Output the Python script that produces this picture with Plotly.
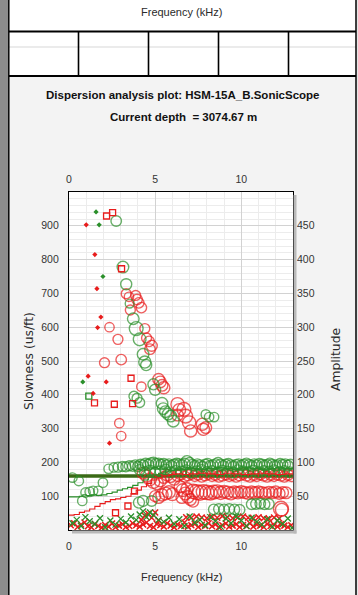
import plotly.graph_objects as go

# ---------------- data ----------------
FREQ_TICKS = [0, 5, 10]
SLOW_TICKS = [100, 200, 300, 400, 500, 600, 700, 800, 900]
AMP_TICKS = [50, 100, 150, 200, 250, 300, 350, 400, 450]

# tiny picks
GREEN_DOT_F = [1.57, 1.75, 1.97, 0.80]
GREEN_DOT_S = [941, 903, 750, 438]
RED_DOT_F = [1.00, 1.50, 1.62, 1.85, 1.66, 1.11, 2.16, 1.40, 2.35]
RED_DOT_S = [903, 815, 714, 630, 599, 455, 438, 404, 257]

# square picks
RED_SQ_F = [2.53, 2.18, 3.05, 3.60, 1.48, 2.63, 3.69, 2.70, 3.42, 3.80]
RED_SQ_S = [939, 929, 773, 449, 376, 372, 374, 51, 71, 115]
GREEN_SQ_F = [1.15]
GREEN_SQ_S = [396]

# green semblance rings (frequency, slowness, relative weight)
GREEN_RING_F = [
    2.74, 3.13, 3.32, 3.52, 3.73, 3.90, 4.10, 4.30, 4.40, 4.48, 4.90, 5.00,
    3.77, 3.95, 4.10, 5.40, 5.47, 5.60, 5.75, 5.90, 6.05, 7.94, 8.13, 8.42,
    0.20, 0.57, 0.77, 0.96, 1.20, 1.40, 1.70, 1.97,
    4.06, 4.30, 4.80, 8.40, 8.70, 9.00, 9.30, 9.60, 9.90, 10.60, 10.85, 11.10, 11.35, 11.60,
    2.30, 2.60, 2.85, 3.10, 3.30, 3.50, 3.70, 3.85, 4.00, 4.15, 4.30, 4.45, 4.60, 4.75,
    4.90, 5.05, 5.20, 5.35, 5.50, 5.65, 5.80, 5.95, 6.10, 6.25, 6.40, 6.55, 6.70, 6.85,
    7.00, 7.15, 7.30, 7.45, 7.60, 7.75, 7.90, 8.05, 8.20, 8.35, 8.50, 8.65, 8.80, 8.95,
    9.10, 9.25, 9.40, 9.55, 9.70, 9.85, 10.00, 10.15, 10.30, 10.45, 10.60, 10.75, 10.90,
    11.05, 11.20, 11.35, 11.50, 11.65, 11.80, 11.95, 12.10, 12.25, 12.40, 12.55, 12.70, 12.85,
    4.10, 4.40, 4.70, 5.00, 5.30, 5.60, 5.90, 6.20, 6.50, 6.80, 7.10, 7.40, 7.70, 8.00,
    8.30, 8.60, 8.90, 9.20, 9.50, 9.80, 10.10, 10.40, 10.70, 11.00, 11.30, 11.60, 11.90,
    12.20, 12.50, 12.80,
]
GREEN_RING_S = [
    914, 778, 727, 670, 625, 596, 564, 520, 497, 488, 431, 415,
    396, 390, 377, 375, 359, 350, 343, 337, 322, 342, 334, 334,
    155, 145, 86, 111, 113, 116, 116, 140,
    81, 86, 86, 61, 62, 61, 62, 61, 60, 76, 77, 78, 76, 77,
    181, 185, 186, 188, 187, 190, 189, 192, 188, 194, 191, 196, 193, 197,
    199, 195, 197, 194, 196, 192, 195, 190, 193, 196, 194, 192, 195, 202,
    198, 193, 190, 195, 192, 188, 194, 196, 190, 192, 195, 198, 193, 190,
    194, 196, 192, 189, 193, 195, 191, 194, 197, 193, 190, 195, 192,
    196, 194, 191, 193, 197, 194, 190, 192, 196, 193, 195, 191, 194,
    178, 172, 176, 170, 174, 179, 171, 175, 173, 177, 170, 174, 178, 172,
    175, 171, 176, 173, 170, 177, 174, 172, 176, 171, 175, 173, 177,
    172, 175, 171,
]
GREEN_RING_W = [
    0.50, 0.60, 0.55, 0.35, 0.60, 0.80, 0.70, 0.60, 0.65, 0.55, 0.55, 0.55,
    0.45, 0.45, 0.45, 0.60, 0.60, 0.60, 0.60, 0.60, 0.60, 0.40, 0.40, 0.40,
    0.40, 0.40, 0.40, 0.40, 0.40, 0.40, 0.40, 0.40,
    0.55, 0.55, 0.50, 0.50, 0.50, 0.50, 0.50, 0.50, 0.50, 0.50, 0.50, 0.50, 0.50, 0.50,
    0.40, 0.40, 0.45, 0.45, 0.45, 0.45, 0.50, 0.50, 0.50, 0.50, 0.55, 0.55, 0.55, 0.55,
    0.55, 0.55, 0.50, 0.50, 0.50, 0.50, 0.50, 0.50, 0.55, 0.55, 0.55, 0.55, 0.60, 0.65,
    0.55, 0.50, 0.50, 0.50, 0.50, 0.50, 0.50, 0.50, 0.50, 0.50, 0.50, 0.55, 0.55, 0.50,
    0.50, 0.50, 0.50, 0.50, 0.50, 0.50, 0.50, 0.50, 0.50, 0.50, 0.50, 0.50, 0.50,
    0.50, 0.50, 0.50, 0.50, 0.50, 0.50, 0.50, 0.50, 0.50, 0.50, 0.50, 0.50, 0.50,
    0.50, 0.50, 0.50, 0.50, 0.50, 0.50, 0.50, 0.50, 0.50, 0.50, 0.50, 0.50, 0.50, 0.50,
    0.50, 0.50, 0.50, 0.50, 0.50, 0.50, 0.50, 0.50, 0.50, 0.50, 0.50, 0.50, 0.50,
    0.50, 0.50, 0.50,
]

# red semblance rings
RED_RING_F = [
    3.32, 3.48, 3.87, 3.95, 4.05, 4.20, 3.56, 2.35, 4.40, 4.50, 4.65, 4.80, 4.70,
    2.84, 2.06, 3.03, 4.20, 5.20, 5.30, 5.40, 5.50, 2.92, 3.03,
    6.30, 6.40, 6.30, 6.67, 6.77, 6.97, 7.06, 7.74, 7.94, 7.80,
    4.30, 4.50, 4.70, 4.90, 5.10, 5.30, 5.50, 5.70, 5.90, 6.10, 6.30, 6.50, 6.70, 6.90,
    7.10, 7.30, 7.50, 7.70, 7.90, 8.10, 8.30, 8.50, 8.70, 8.90, 9.10, 9.30, 9.50, 9.70,
    9.90, 10.10, 10.30, 10.50, 10.70, 10.90, 11.10, 11.30, 11.50, 11.70, 11.90, 12.10,
    12.30, 12.50, 12.70, 12.90,
    5.00, 5.20, 5.40, 5.60, 5.80, 6.00, 7.20, 7.40, 7.60, 7.80, 8.00, 8.20, 8.40, 8.60,
    8.80, 9.00, 9.20, 9.40, 9.60, 9.80, 10.00, 10.20, 10.40, 10.60, 10.80, 11.00, 11.20,
    11.40, 11.60, 11.80, 12.00, 12.20, 12.40, 12.60,
    6.45, 6.60, 6.75, 6.90, 7.05, 7.20, 6.55, 6.85,
    12.30, 12.35,
]
RED_RING_S = [
    699, 690, 694, 682, 672, 658, 651, 600, 596, 568, 558, 545, 535,
    564, 495, 504, 424, 446, 438, 428, 421, 316, 278,
    372, 355, 340, 357, 337, 318, 293, 313, 303, 298,
    168, 160, 150, 142, 138, 146, 155, 162, 158, 150, 160, 165, 158, 162,
    166, 160, 164, 158, 162, 166, 160, 163, 158, 161, 165, 160, 163, 158,
    162, 166, 161, 158, 163, 160, 165, 161, 158, 163, 160, 164,
    161, 158, 163, 160,
    100, 96, 104, 108, 112, 106, 114, 112, 110, 113, 111, 109, 112, 114,
    110, 113, 111, 108, 112, 110, 113, 111, 109, 112, 110, 113, 111,
    109, 112, 110, 113, 108, 111, 110,
    128, 118, 108, 98, 90, 84, 96, 122,
    63, 60,
]
RED_RING_W = [
    0.45, 0.40, 0.45, 0.50, 0.50, 0.50, 0.45, 0.40, 0.45, 0.45, 0.50, 0.55, 0.50,
    0.45, 0.45, 0.50, 0.40, 0.60, 0.60, 0.60, 0.65, 0.40, 0.40,
    0.75, 0.70, 0.60, 0.80, 0.80, 0.75, 0.65, 0.65, 0.60, 0.65,
    0.60, 0.65, 0.70, 0.70, 0.70, 0.65, 0.60, 0.60, 0.60, 0.60, 0.55, 0.55, 0.55, 0.55,
    0.55, 0.55, 0.55, 0.55, 0.55, 0.55, 0.55, 0.55, 0.55, 0.55, 0.55, 0.55, 0.55, 0.55,
    0.55, 0.55, 0.55, 0.55, 0.55, 0.55, 0.55, 0.55, 0.55, 0.55, 0.55, 0.55,
    0.55, 0.55, 0.55, 0.55,
    0.55, 0.60, 0.65, 0.70, 0.70, 0.70, 0.85, 0.90, 0.90, 0.85, 0.85, 0.80, 0.80, 0.75,
    0.75, 0.70, 0.70, 0.70, 0.65, 0.65, 0.65, 0.65, 0.65, 0.65, 0.65, 0.60, 0.60,
    0.60, 0.60, 0.60, 0.60, 0.60, 0.60, 0.60,
    0.65, 0.70, 0.70, 0.65, 0.60, 0.55, 0.60, 0.65,
    0.90, 0.70,
]

# crosses near the bottom
RED_X_F = [
    0.10, 0.30, 0.50, 0.70, 0.90, 1.10, 1.30, 1.50, 1.70, 1.90, 2.10, 2.30, 2.50, 2.70,
    2.90, 3.10, 3.30, 3.50, 3.70, 3.90, 4.10, 4.30, 4.50, 4.70, 4.90, 5.10, 5.30, 5.50,
    5.70, 5.90, 6.10, 6.30, 6.50, 6.70, 6.90, 7.10, 7.30, 7.50, 7.70, 7.90, 8.10, 8.30,
    8.50, 8.70, 8.90, 9.10, 9.30, 9.50, 9.70, 9.90, 10.10, 10.30, 10.50, 10.70, 10.90,
    11.10, 11.30, 11.50, 11.70, 11.90, 12.10, 12.30, 12.50, 12.70, 12.90,
    6.80, 7.10, 7.40, 7.70, 8.00, 8.30, 8.60, 8.90, 9.20, 9.50, 9.80, 10.10, 10.40,
    10.70, 11.00, 11.30, 11.60, 11.90, 12.20,
    4.20, 4.40, 4.60, 4.80, 5.00, 5.20,
]
RED_X_S = [
    14, 20, 9, 16, 22, 11, 8, 18, 12, 7, 15, 10, 19, 8, 13, 17, 9, 12, 20, 14, 10,
    16, 22, 12, 8, 18, 14, 10, 20, 13, 8, 16, 12, 22, 10, 14, 18, 9, 15, 12, 20, 11,
    16, 8, 14, 19, 10, 13, 17, 9, 15, 12, 20, 10, 16, 13, 9, 18, 12, 15, 10, 17, 13,
    9, 14,
    38, 36, 40, 37, 35, 39, 36, 41, 38, 35, 37, 40, 36, 34, 38, 35, 33, 37, 34,
    30, 42, 48, 36, 52, 28,
]
GREEN_X_F = [
    0.20, 0.45, 0.70, 0.95, 1.20, 1.50, 1.80, 2.10, 2.40, 2.70, 3.00, 3.30, 3.60, 3.90,
    4.10, 4.30, 4.50, 4.70, 4.90, 5.20, 5.50, 5.80, 6.10, 6.40, 6.70, 7.00, 7.30, 7.60,
    7.90, 8.20, 8.50, 8.80, 9.10, 9.40, 9.70, 10.00, 10.30, 10.60, 10.90, 11.20, 11.50,
    11.80, 12.10, 12.40, 12.70, 12.95,
]
GREEN_X_S = [
    20, 30, 12, 38, 26, 18, 35, 8, 28, 16, 33, 22, 40, 30,
    46, 55, 38, 52, 44, 30, 24, 36, 18, 32, 12, 40, 22, 30,
    14, 38, 26, 10, 34, 20, 40, 28, 12, 36, 24, 16, 32, 10,
    28, 18, 34, 6,
]

# amplitude spectra (right axis)
GREEN_AMP_F = [0.0, 0.3, 0.6, 0.8, 1.0, 1.3, 1.6, 1.9, 2.2, 2.5, 2.8, 3.1, 3.4, 3.7,
               4.0, 4.3, 4.6, 4.9, 5.2, 5.5, 5.8, 6.1, 6.5, 7.0, 7.5, 8.0, 8.5, 9.0,
               9.5, 10.0, 10.5, 11.0, 11.5, 12.0, 12.5, 13.0]
GREEN_AMP = [49, 49, 50, 52, 51, 52, 51, 52, 54, 56, 59, 61, 63, 66,
             70, 74, 78, 81, 84, 86, 88, 89, 90, 91, 90, 91, 92, 91,
             90, 92, 91, 90, 91, 92, 91, 90]
RED_AMP_F = [0.0, 0.3, 0.6, 0.9, 1.2, 1.5, 1.8, 2.1, 2.4, 2.7, 3.0, 3.3, 3.6, 3.9,
             4.2, 4.5, 4.8, 5.1, 5.4, 5.8, 6.2, 6.6, 7.0, 7.5, 8.0, 8.5, 9.0, 9.5,
             10.0, 10.5, 11.0, 11.5, 12.0, 12.5, 13.0]
RED_AMP = [22, 23, 26, 28, 31, 35, 39, 42, 45, 46, 48, 50, 54, 59,
           64, 69, 74, 77, 80, 82, 83, 82, 83, 84, 83, 82, 84, 83,
           82, 83, 84, 83, 82, 83, 82]

# formation reference slowness
REF_F = [0, 13]
REF_S = [160, 160]

# ---------------- page geometry ----------------
W_PX, H_PX = 358, 595
L, R, T, B = 69, 65, 192, 65
PW, PH = W_PX - L - R, H_PX - T - B


def fx(x):
    return (x - L) / PW


def fy(y):
    return (T + PH - y) / PH


GREEN = "#2a8f2a"
RED = "#e81c1c"
DARK_GREEN = "#3a6a16"
TICK_FONT = dict(family="Liberation Sans, Arial", size=10.5, color="#333333")


def ring_size(ws):
    return [5 + 11 * w for w in ws]


fig = go.Figure()

fig.add_trace(go.Scatter(x=RED_X_F, y=RED_X_S, mode="markers",
                         marker=dict(symbol="x-thin-open", size=6, color=RED,
                                     line=dict(width=1.5, color=RED))))
fig.add_trace(go.Scatter(x=GREEN_X_F, y=GREEN_X_S, mode="markers",
                         marker=dict(symbol="x-thin-open", size=6, color=GREEN,
                                     line=dict(width=1.3, color=GREEN))))
fig.add_trace(go.Scatter(x=RED_AMP_F, y=RED_AMP, xaxis="x2", yaxis="y2", mode="lines",
                         line=dict(color=RED, width=1.1, shape="hv")))
fig.add_trace(go.Scatter(x=GREEN_AMP_F, y=GREEN_AMP, xaxis="x2", yaxis="y2", mode="lines",
                         line=dict(color=GREEN, width=1.1, shape="hv")))
fig.add_trace(go.Scatter(x=REF_F, y=REF_S, mode="lines",
                         line=dict(color=DARK_GREEN, width=3.5)))
fig.add_trace(go.Scatter(x=RED_RING_F, y=RED_RING_S, mode="markers",
                         marker=dict(symbol="circle-open", size=ring_size(RED_RING_W), color=RED,
                                     line=dict(width=1.4, color=RED))))
fig.add_trace(go.Scatter(x=GREEN_RING_F, y=GREEN_RING_S, mode="markers",
                         marker=dict(symbol="circle-open", size=ring_size(GREEN_RING_W), color=GREEN,
                                     line=dict(width=1.4, color=GREEN))))
fig.add_trace(go.Scatter(x=RED_SQ_F, y=RED_SQ_S, mode="markers",
                         marker=dict(symbol="square-open", size=6, color=RED,
                                     line=dict(width=1.3, color=RED))))
fig.add_trace(go.Scatter(x=GREEN_SQ_F, y=GREEN_SQ_S, mode="markers",
                         marker=dict(symbol="square-open", size=6, color=GREEN,
                                     line=dict(width=1.3, color=GREEN))))
fig.add_trace(go.Scatter(x=RED_DOT_F, y=RED_DOT_S, mode="markers",
                         marker=dict(symbol="diamond", size=4, color=RED)))
fig.add_trace(go.Scatter(x=GREEN_DOT_F, y=GREEN_DOT_S, mode="markers",
                         marker=dict(symbol="diamond", size=4, color=GREEN)))

axis_common = dict(showline=False, zeroline=False, ticks="", tickfont=TICK_FONT)

fig.update_layout(
    width=W_PX, height=H_PX,
    margin=dict(l=L, r=R, t=T, b=B, pad=0),
    paper_bgcolor="#f3f3f3",
    plot_bgcolor="#ffffff",
    showlegend=False,
    xaxis=dict(range=[0, 13], tickvals=FREQ_TICKS, showgrid=True, gridcolor="#d2d2d2",
               gridwidth=1, minor=dict(dtick=1, showgrid=True, gridcolor="#ececec"),
               showline=True, linecolor="#000000", linewidth=1.2, mirror=True,
               zeroline=False, ticks="", tickfont=TICK_FONT, ticklabelstandoff=6),
    xaxis2=dict(overlaying="x", matches="x", side="top", anchor="y", tickvals=FREQ_TICKS,
                showgrid=False, ticklabelstandoff=6, **axis_common),
    yaxis=dict(range=[0, 1000], tickvals=SLOW_TICKS, showgrid=True, gridcolor="#d2d2d2",
               minor=dict(dtick=20, showgrid=True, gridcolor="#ececec"),
               showline=True, linecolor="#000000", linewidth=1.2, mirror=True,
               zeroline=False, ticks="", tickfont=TICK_FONT, ticklabelstandoff=7),
    yaxis2=dict(overlaying="y", side="right", anchor="x", range=[0, 500], tickvals=AMP_TICKS,
                showgrid=False, ticklabelstandoff=3, **axis_common),
)

shapes = []
# left grey frame strip and outer rules
shapes.append(dict(type="rect", xref="paper", yref="paper", x0=fx(0), x1=fx(8),
                   y0=fy(H_PX), y1=fy(0), fillcolor="#8c8c8c", line=dict(width=0)))
shapes.append(dict(type="rect", xref="paper", yref="paper", x0=fx(357), x1=fx(358),
                   y0=fy(H_PX), y1=fy(0), fillcolor="#e6e6e6", line=dict(width=0)))
# white header block
shapes.append(dict(type="rect", xref="paper", yref="paper", x0=fx(9), x1=fx(356),
                   y0=fy(76), y1=fy(0), fillcolor="#ffffff", line=dict(width=0)))
shapes.append(dict(type="line", xref="paper", yref="paper", x0=fx(9), x1=fx(356),
                   y0=fy(47), y1=fy(47), line=dict(color="#e4e4e4", width=1.5)))
for yy in (31.5, 76):
    shapes.append(dict(type="line", xref="paper", yref="paper", x0=fx(9), x1=fx(356),
                       y0=fy(yy), y1=fy(yy), line=dict(color="#000000", width=2)))
for xx in (78.5, 148.5, 218.5, 288.5):
    shapes.append(dict(type="line", xref="paper", yref="paper", x0=fx(xx), x1=fx(xx),
                       y0=fy(76), y1=fy(31.5), line=dict(color="#000000", width=1.6)))
for xx in (8.8, 356):
    shapes.append(dict(type="line", xref="paper", yref="paper", x0=fx(xx), x1=fx(xx),
                       y0=fy(H_PX), y1=fy(0), line=dict(color="#000000", width=1.5)))
# drop shadow around the plot frame
shapes.append(dict(type="rect", xref="paper", yref="paper", x0=fx(293.6), x1=fx(296.5),
                   y0=fy(533.5), y1=fy(195), fillcolor="#b9b9b9", line=dict(width=0)))
shapes.append(dict(type="rect", xref="paper", yref="paper", x0=fx(72), x1=fx(296.5),
                   y0=fy(533.5), y1=fy(530.6), fillcolor="#b9b9b9", line=dict(width=0)))
fig.update_layout(shapes=shapes)

TITLE_FONT = dict(family="Liberation Sans, Arial", size=11.5, color="#111111")
LABEL_FONT = dict(family="Liberation Sans, Arial", size=11, color="#2a2a2a")
AXT_FONT = dict(family="DejaVu Sans", size=12.3, color="#2a2a2a")


def note(text, x, y, font, angle=0, bold=False):
    fig.add_annotation(text=f"<b>{text}</b>" if bold else text, xref="paper", yref="paper",
                       x=fx(x), y=fy(y), xanchor="center", yanchor="middle",
                       showarrow=False, font=font, textangle=angle)


note("Frequency (kHz)", 181, 12, LABEL_FONT)
note("Dispersion analysis plot: HSM-15A_B.SonicScope", 182.5, 95, TITLE_FONT, bold=True)
note("Current depth \u00a0= 3074.67 m", 183, 117, TITLE_FONT, bold=True)
note("Slowness (us/ft)", 29, 361, AXT_FONT, angle=-90)
note("Amplitude", 336, 360, AXT_FONT, angle=-90)
note("Frequency (kHz)", 181, 577, LABEL_FONT)

fig.write_html("out.html")
